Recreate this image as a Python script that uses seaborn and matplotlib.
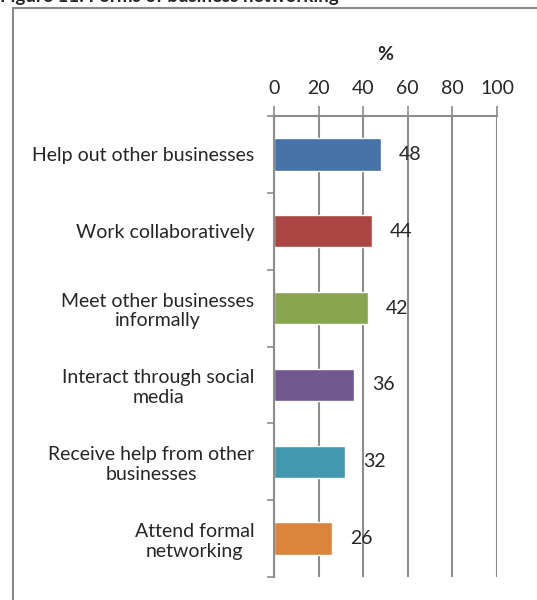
import matplotlib
matplotlib.use('Agg')
import matplotlib.pyplot as plt
import matplotlib.patches as patches
import seaborn as sns
import pandas as pd

# chart data
categories = ['Help out other businesses',
              'Work collaboratively',
              'Meet other businesses\ninformally',
              'Interact through social\nmedia',
              'Receive help from other\nbusinesses',
              'Attend formal\nnetworking']
values = [48, 44, 42, 36, 32, 26]
bar_colors = ['#4572A7', '#AA4643', '#89A54E', '#71588F', '#4198AF', '#DB843D']
x_ticks = [0, 20, 40, 60, 80, 100]

sns.set_style('white')
plt.rcParams['font.family'] = ['Lato', 'DejaVu Sans']

df = pd.DataFrame({'Category': categories, 'Percent': values})

fig = plt.figure(figsize=(5.37, 6.0), dpi=100)
ax = fig.add_axes([274/537, 1 - 577/600, (497 - 274)/537, (577 - 116)/600])

sns.barplot(data=df, x='Percent', y='Category', hue='Category',
            palette=bar_colors, legend=False, width=0.42,
            saturation=1, orient='h', ax=ax)

grid_col = '#8c8c8c'
fs = 14
ax.set_xlim(0, 100)
ax.set_ylim(len(categories) - 0.5, -0.5)
ax.set_xticks(x_ticks)
ax.xaxis.tick_top()
ax.xaxis.set_label_position('top')
ax.set_xlabel('%', fontsize=fs, fontweight='bold', labelpad=14)
ax.set_ylabel('')
ax.tick_params(axis='x', which='major', length=7, width=1.2, color=grid_col,
               labelsize=fs, pad=7, top=True, bottom=False)
ax.tick_params(axis='y', which='major', length=0, labelsize=fs, pad=14)
ax.set_yticks([i - 0.5 for i in range(len(categories) + 1)], minor=True)
ax.tick_params(axis='y', which='minor', length=5, width=1.2, color=grid_col,
               left=True)
for t in ax.get_yticklabels():
    t.set_multialignment('center')

ax.grid(axis='x', color=grid_col, linewidth=1.5)
ax.set_axisbelow(True)
for side in ['right', 'bottom']:
    ax.spines[side].set_visible(False)
for side in ['left', 'top']:
    ax.spines[side].set_color(grid_col)
    ax.spines[side].set_linewidth(1.5)

for cont in ax.containers:
    ax.bar_label(cont, fmt='%d', padding=13, fontsize=fs)

# outer chart frame (runs off the right and bottom edge)
frame = patches.Rectangle((12.5/537, -0.05), 1.2, 1.05 - 8/600,
                          transform=fig.transFigure, fill=False,
                          edgecolor='#8a8a8a', linewidth=1.5, clip_on=False)
fig.patches.append(frame)

# cropped figure caption at the top
fig.text(0.0, 1 - 2/600, 'Figure 11: Forms of business networking',
         fontsize=13.5, fontweight='bold', ha='left', va='baseline')

fig.savefig('out.png', dpi=100)
plt.close()
